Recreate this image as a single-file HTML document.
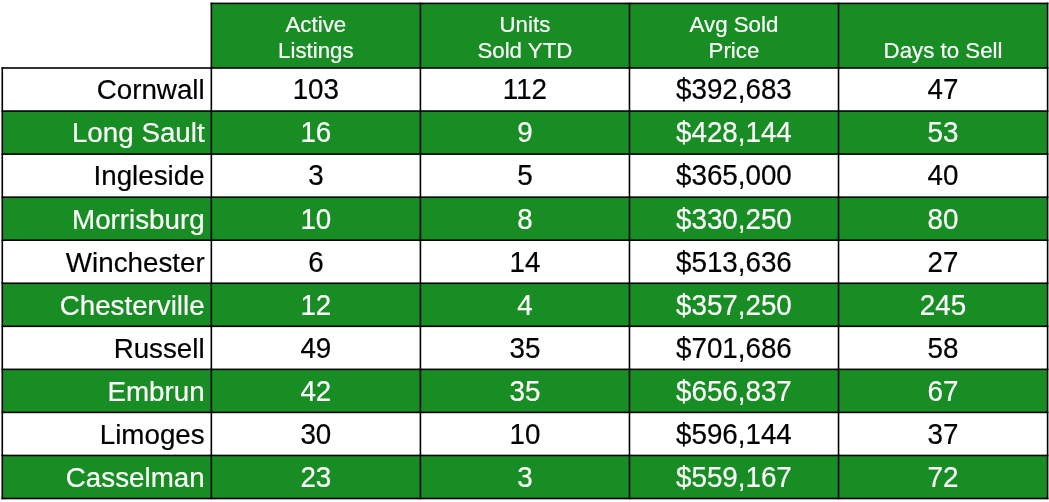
<!DOCTYPE html>
<html lang="en"><head><meta charset="utf-8"><title>Market Stats</title>
<style>
html,body{margin:0;padding:0;background:#fff;}
body{width:1049px;height:502px;position:relative;overflow:hidden;font-family:"Liberation Sans",Arial,Helvetica,sans-serif;text-rendering:auto;}
svg{position:absolute;left:0;top:0;}
table{filter:none;position:absolute;left:2.29px;top:3.4px;border-collapse:collapse;border-spacing:0;table-layout:fixed;width:1045.3px;}
td,th{padding:0;margin:0;white-space:nowrap;text-align:center;font-weight:normal;overflow:visible;}
th{height:64.6px;color:#fff;font-size:22.3px;line-height:26px;vertical-align:bottom;letter-spacing:0px;}
th span{display:block;position:relative;top:-0.5px;padding-bottom:3px;}
td{height:43.05px;font-size:27.75px;line-height:43.05px;color:#000;letter-spacing:0px;vertical-align:middle;}
td span{display:block;position:relative;top:0.4px;height:43.05px;}
tr.g td{color:#fff;}
td.d span{transform:translateY(0px) scaleY(1.04);transform-origin:50% 73%;}
td.n{text-align:right;}
td.n span{padding-right:6.7px;}
span{-webkit-text-stroke:0.2px currentColor;}
</style></head><body>
<svg width="1049" height="502" viewBox="0 0 1049 502">
<g fill="#188d23">
<rect x="211.35" y="3.4" width="836.24" height="64.6"/>
<rect x="2.29" y="111.05" width="1045.3" height="43.05"/>
<rect x="2.29" y="197.15" width="1045.3" height="43.05"/>
<rect x="2.29" y="283.25" width="1045.3" height="43.05"/>
<rect x="2.29" y="369.35" width="1045.3" height="43.05"/>
<rect x="2.29" y="455.45" width="1045.3" height="43.05"/>
</g>
<g fill="#000">
<rect x="210.55" y="2.6" width="837.84" height="1.6"/>
<rect x="1.49" y="67.2" width="1046.9" height="1.6"/>
<rect x="1.49" y="110.25" width="1046.9" height="1.6"/>
<rect x="1.49" y="153.3" width="1046.9" height="1.6"/>
<rect x="1.49" y="196.35" width="1046.9" height="1.6"/>
<rect x="1.49" y="239.4" width="1046.9" height="1.6"/>
<rect x="1.49" y="282.45" width="1046.9" height="1.6"/>
<rect x="1.49" y="325.5" width="1046.9" height="1.6"/>
<rect x="1.49" y="368.55" width="1046.9" height="1.6"/>
<rect x="1.49" y="411.6" width="1046.9" height="1.6"/>
<rect x="1.49" y="454.65" width="1046.9" height="1.6"/>
<rect x="1.49" y="497.7" width="1046.9" height="1.6"/>
<rect x="1.49" y="67.2" width="1.6" height="432.1"/>
<rect x="210.55" y="2.6" width="1.6" height="496.7"/>
<rect x="419.61" y="2.6" width="1.6" height="496.7"/>
<rect x="628.67" y="2.6" width="1.6" height="496.7"/>
<rect x="837.73" y="2.6" width="1.6" height="496.7"/>
<rect x="1046.79" y="2.6" width="1.6" height="496.7"/>
</g>
</svg>
<table>
<colgroup><col style="width:209.06px"><col style="width:209.06px"><col style="width:209.06px"><col style="width:209.06px"><col style="width:209.06px"></colgroup>
<thead><tr><th></th><th><span>Active<br>Listings</span></th><th><span>Units<br>Sold YTD</span></th><th><span>Avg Sold<br>Price</span></th><th><span>Days to Sell</span></th></tr></thead>
<tbody>
<tr><td class="n"><span>Cornwall</span></td><td class="d"><span>103</span></td><td class="d"><span>112</span></td><td class="d"><span>$392,683</span></td><td class="d"><span>47</span></td></tr>
<tr class="g"><td class="n"><span>Long Sault</span></td><td class="d"><span>16</span></td><td class="d"><span>9</span></td><td class="d"><span>$428,144</span></td><td class="d"><span>53</span></td></tr>
<tr><td class="n"><span>Ingleside</span></td><td class="d"><span>3</span></td><td class="d"><span>5</span></td><td class="d"><span>$365,000</span></td><td class="d"><span>40</span></td></tr>
<tr class="g"><td class="n"><span>Morrisburg</span></td><td class="d"><span>10</span></td><td class="d"><span>8</span></td><td class="d"><span>$330,250</span></td><td class="d"><span>80</span></td></tr>
<tr><td class="n"><span>Winchester</span></td><td class="d"><span>6</span></td><td class="d"><span>14</span></td><td class="d"><span>$513,636</span></td><td class="d"><span>27</span></td></tr>
<tr class="g"><td class="n"><span>Chesterville</span></td><td class="d"><span>12</span></td><td class="d"><span>4</span></td><td class="d"><span>$357,250</span></td><td class="d"><span>245</span></td></tr>
<tr><td class="n"><span>Russell</span></td><td class="d"><span>49</span></td><td class="d"><span>35</span></td><td class="d"><span>$701,686</span></td><td class="d"><span>58</span></td></tr>
<tr class="g"><td class="n"><span>Embrun</span></td><td class="d"><span>42</span></td><td class="d"><span>35</span></td><td class="d"><span>$656,837</span></td><td class="d"><span>67</span></td></tr>
<tr><td class="n"><span>Limoges</span></td><td class="d"><span>30</span></td><td class="d"><span>10</span></td><td class="d"><span>$596,144</span></td><td class="d"><span>37</span></td></tr>
<tr class="g"><td class="n"><span>Casselman</span></td><td class="d"><span>23</span></td><td class="d"><span>3</span></td><td class="d"><span>$559,167</span></td><td class="d"><span>72</span></td></tr>
</tbody>
</table>
</body></html>
